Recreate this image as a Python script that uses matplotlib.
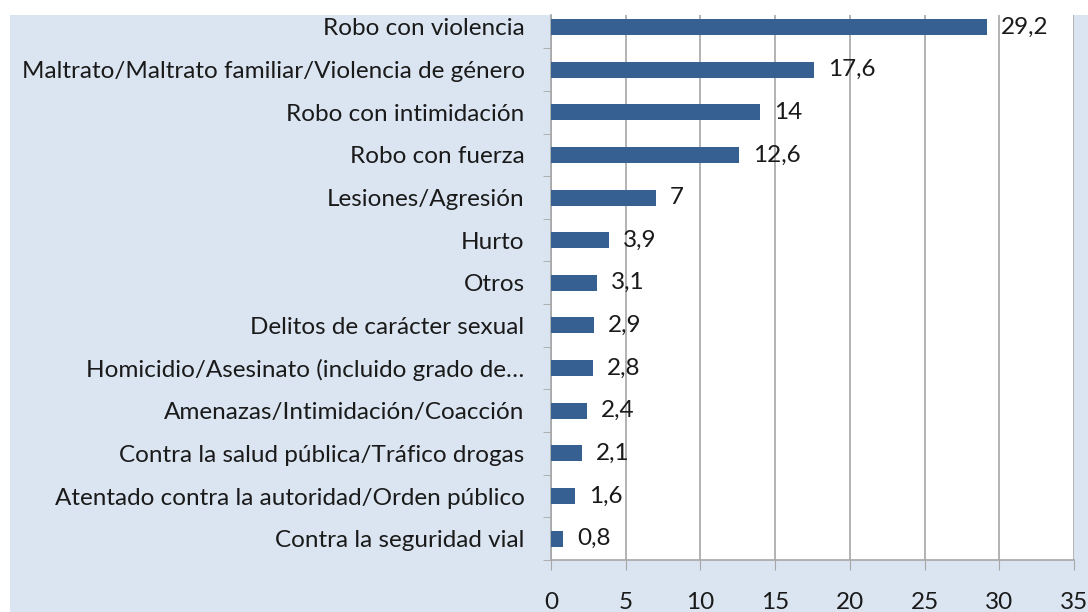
import numpy as np
import matplotlib.pyplot as plt
from matplotlib.patches import Rectangle

categorias = ["Robo con violencia",
              "Maltrato/Maltrato familiar/Violencia de género",
              "Robo con intimidación",
              "Robo con fuerza",
              "Lesiones/Agresión",
              "Hurto",
              "Otros",
              "Delitos de carácter sexual",
              "Homicidio/Asesinato (incluido grado de…",
              "Amenazas/Intimidación/Coacción",
              "Contra la salud pública/Tráfico drogas",
              "Atentado contra la autoridad/Orden público",
              "Contra la seguridad vial"]
valores = [29.2, 17.6, 14, 12.6, 7, 3.9, 3.1, 2.9, 2.8, 2.4, 2.1, 1.6, 0.8]
etiquetas = ["29,2", "17,6", "14", "12,6", "7", "3,9", "3,1", "2,9", "2,8", "2,4", "2,1", "1,6", "0,8"]
xticks = [0, 5, 10, 15, 20, 25, 30, 35]

plt.rcParams['font.family'] = ['Lato', 'DejaVu Sans']
fs = 17.5
txt = '#1a1a1a'
grid = '#a6a6a6'

fig = plt.figure(figsize=(10.88, 6.12), dpi=100)
fig.patch.set_facecolor('white')
# fondo azul claro del grafico
fig.patches.append(Rectangle((10/1088, 0), 1, (612-15)/612, transform=fig.transFigure,
                             facecolor='#dbe5f1', edgecolor='none', zorder=-5))

ax = fig.add_axes([551/1088, 52/612, 523/1088, 545/612])
ax.set_facecolor('white')
y = np.arange(len(categorias))
ax.barh(y, valores, height=0.375, color='#366092', zorder=3)
for yi, v, t in zip(y, valores, etiquetas):
    ax.annotate(t, (v, yi), xytext=(10, 0), textcoords='offset points',
                va='center', ha='left', fontsize=fs, color=txt, zorder=4)

ax.set_xlim(0, 35)
ax.set_ylim(12.5, -0.28)
ax.set_xticks(xticks)
ax.set_xticklabels([str(t) for t in xticks], fontsize=fs, color=txt)
ax.set_yticks(y)
ax.set_yticklabels(categorias, fontsize=fs, color=txt)
ax.set_yticks(np.arange(len(categorias)) + 0.5, minor=True)
ax.tick_params(axis='y', which='major', length=0, pad=19)
ax.tick_params(axis='y', which='minor', length=6, color=grid, direction='out')
ax.tick_params(axis='x', length=7, color=grid, pad=16)
ax.grid(axis='x', color=grid, linewidth=1.2, zorder=1)
for s in ['top', 'right']:
    ax.spines[s].set_visible(False)
for s in ['left', 'bottom']:
    ax.spines[s].set_color(grid)
    ax.spines[s].set_linewidth(1.2)

fig.savefig('out.png', dpi=100)
